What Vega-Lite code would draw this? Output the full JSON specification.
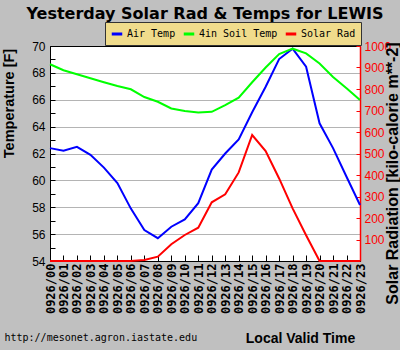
{
  "$schema": "https://vega.github.io/schema/vega-lite/v6.json",
  "width": 310,
  "height": 215,
  "autosize": {"type": "none"},
  "padding": {"left": 50, "top": 46, "right": 40, "bottom": 89},
  "background": "#c0c0c0",
  "title": {"text": "Yesterday Solar Rad & Temps for  LEWIS", "font": "DejaVu Sans", "fontSize": 16, "fontWeight": "bold", "color": "#000000", "anchor": "middle", "baseline": "alphabetic", "offset": 2, "dy": 15},
  "config": {"view": {"fill": "white", "stroke": "black", "strokeWidth": 1}},
  "datasets": {
    "obs": [
      {"time": "0926/00", "series": "Air Temp", "value": 62.4},
      {"time": "0926/01", "series": "Air Temp", "value": 62.2},
      {"time": "0926/02", "series": "Air Temp", "value": 62.5},
      {"time": "0926/03", "series": "Air Temp", "value": 61.9},
      {"time": "0926/04", "series": "Air Temp", "value": 60.95},
      {"time": "0926/05", "series": "Air Temp", "value": 59.8},
      {"time": "0926/06", "series": "Air Temp", "value": 57.9},
      {"time": "0926/07", "series": "Air Temp", "value": 56.3},
      {"time": "0926/08", "series": "Air Temp", "value": 55.7},
      {"time": "0926/09", "series": "Air Temp", "value": 56.55},
      {"time": "0926/10", "series": "Air Temp", "value": 57.1},
      {"time": "0926/11", "series": "Air Temp", "value": 58.3},
      {"time": "0926/12", "series": "Air Temp", "value": 60.8},
      {"time": "0926/13", "series": "Air Temp", "value": 62.0},
      {"time": "0926/14", "series": "Air Temp", "value": 63.05},
      {"time": "0926/15", "series": "Air Temp", "value": 65.07},
      {"time": "0926/16", "series": "Air Temp", "value": 66.97},
      {"time": "0926/17", "series": "Air Temp", "value": 69.03},
      {"time": "0926/18", "series": "Air Temp", "value": 69.8},
      {"time": "0926/19", "series": "Air Temp", "value": 68.46},
      {"time": "0926/20", "series": "Air Temp", "value": 64.25},
      {"time": "0926/21", "series": "Air Temp", "value": 62.4},
      {"time": "0926/22", "series": "Air Temp", "value": 60.27},
      {"time": "0926/23", "series": "Air Temp", "value": 58.17},
      {"time": "0926/00", "series": "4in Soil Temp", "value": 68.64},
      {"time": "0926/01", "series": "4in Soil Temp", "value": 68.2},
      {"time": "0926/02", "series": "4in Soil Temp", "value": 67.9},
      {"time": "0926/03", "series": "4in Soil Temp", "value": 67.6},
      {"time": "0926/04", "series": "4in Soil Temp", "value": 67.3},
      {"time": "0926/05", "series": "4in Soil Temp", "value": 67.02},
      {"time": "0926/06", "series": "4in Soil Temp", "value": 66.78},
      {"time": "0926/07", "series": "4in Soil Temp", "value": 66.2},
      {"time": "0926/08", "series": "4in Soil Temp", "value": 65.85},
      {"time": "0926/09", "series": "4in Soil Temp", "value": 65.35},
      {"time": "0926/10", "series": "4in Soil Temp", "value": 65.17},
      {"time": "0926/11", "series": "4in Soil Temp", "value": 65.06},
      {"time": "0926/12", "series": "4in Soil Temp", "value": 65.1},
      {"time": "0926/13", "series": "4in Soil Temp", "value": 65.6},
      {"time": "0926/14", "series": "4in Soil Temp", "value": 66.15},
      {"time": "0926/15", "series": "4in Soil Temp", "value": 67.3},
      {"time": "0926/16", "series": "4in Soil Temp", "value": 68.4},
      {"time": "0926/17", "series": "4in Soil Temp", "value": 69.4},
      {"time": "0926/18", "series": "4in Soil Temp", "value": 69.8},
      {"time": "0926/19", "series": "4in Soil Temp", "value": 69.45},
      {"time": "0926/20", "series": "4in Soil Temp", "value": 68.7},
      {"time": "0926/21", "series": "4in Soil Temp", "value": 67.7},
      {"time": "0926/22", "series": "4in Soil Temp", "value": 66.85},
      {"time": "0926/23", "series": "4in Soil Temp", "value": 65.98},
      {"time": "0926/00", "series": "Solar Rad", "value": 0},
      {"time": "0926/01", "series": "Solar Rad", "value": 0},
      {"time": "0926/02", "series": "Solar Rad", "value": 0},
      {"time": "0926/03", "series": "Solar Rad", "value": 0},
      {"time": "0926/04", "series": "Solar Rad", "value": 0},
      {"time": "0926/05", "series": "Solar Rad", "value": 0},
      {"time": "0926/06", "series": "Solar Rad", "value": 0},
      {"time": "0926/07", "series": "Solar Rad", "value": 5},
      {"time": "0926/08", "series": "Solar Rad", "value": 20},
      {"time": "0926/09", "series": "Solar Rad", "value": 78},
      {"time": "0926/10", "series": "Solar Rad", "value": 121},
      {"time": "0926/11", "series": "Solar Rad", "value": 155},
      {"time": "0926/12", "series": "Solar Rad", "value": 273},
      {"time": "0926/13", "series": "Solar Rad", "value": 310},
      {"time": "0926/14", "series": "Solar Rad", "value": 412},
      {"time": "0926/15", "series": "Solar Rad", "value": 586},
      {"time": "0926/16", "series": "Solar Rad", "value": 511},
      {"time": "0926/17", "series": "Solar Rad", "value": 384},
      {"time": "0926/18", "series": "Solar Rad", "value": 245},
      {"time": "0926/19", "series": "Solar Rad", "value": 120},
      {"time": "0926/20", "series": "Solar Rad", "value": 0},
      {"time": "0926/21", "series": "Solar Rad", "value": 0},
      {"time": "0926/22", "series": "Solar Rad", "value": 0},
      {"time": "0926/23", "series": "Solar Rad", "value": 0}
    ]
  },
  "data": {"name": "obs"},
  "layer": [
    {
      "transform": [{"filter": "datum.series != 'Solar Rad'"}],
      "mark": {"type": "line", "strokeWidth": 2},
      "encoding": {
        "x": {
          "field": "time", "type": "ordinal",
          "scale": {"type": "point", "padding": 0},
          "axis": {
            "orient": "bottom",
            "labelAngle": 270, "labelFont": "DejaVu Sans Mono", "labelFontWeight": "bold", "labelFontSize": 12,
            "labelColor": "black", "labelOverlap": false, "labelPadding": 8,
            "tickSize": -6, "tickColor": "black", "domainColor": "black", "grid": false,
            "title": "Local Valid Time", "titleFont": "Liberation Sans", "titleFontSize": 14, "titleFontWeight": "bold",
            "titleColor": "black", "titleX": 250, "titleY": 81, "titleAlign": "center", "titleBaseline": "alphabetic", "titleAngle": 0
          }
        },
        "y": {
          "field": "value", "type": "quantitative",
          "scale": {"domain": [54, 70], "nice": false, "zero": false},
          "axis": {
            "values": [54, 55, 56, 57, 58, 59, 60, 61, 62, 63, 64, 65, 66, 67, 68, 69, 70],
            "labelExpr": "datum.value % 2 == 0 ? datum.label : ''",
            "labelOverlap": false, "labelFont": "Liberation Sans", "labelFontSize": 12, "labelColor": "black",
            "labelPadding": 10, "tickSize": -5, "tickColor": "black", "domainColor": "black",
            "grid": true, "gridColor": "#b4b4b4",
            "gridOpacity": {"condition": {"test": "datum.value % 2 == 1 || datum.value == 54 || datum.value == 70", "value": 0}, "value": 1},
            "title": "Temperature [F]", "titleFont": "Liberation Sans", "titleFontSize": 14.5, "titleFontWeight": "bold",
            "titleColor": "black", "titleX": -37, "titleY": 57, "titleAngle": 270, "titleAlign": "center", "titleBaseline": "alphabetic"
          }
        },
        "color": {
          "field": "series", "type": "nominal",
          "scale": {"domain": ["Air Temp", "4in Soil Temp", "Solar Rad"], "range": ["#0000ff", "#00ff00", "#ff0000"]},
          "legend": {
            "orient": "none", "legendX": 55, "legendY": -24, "direction": "horizontal", "title": null,
            "fillColor": "#f0dc8c", "strokeColor": "#333333", "padding": 5,
            "symbolType": "stroke", "symbolSize": 110, "symbolStrokeWidth": 3,
            "labelFont": "DejaVu Sans Mono", "labelFontSize": 10, "labelColor": "black", "labelOffset": 3, "columnPadding": 1
          }
        }
      }
    },
    {
      "transform": [{"filter": "datum.series == 'Solar Rad'"}],
      "mark": {"type": "line", "strokeWidth": 2},
      "encoding": {
        "x": {
          "field": "time", "type": "ordinal",
          "scale": {"type": "point", "padding": 0},
          "axis": {
            "orient": "bottom",
            "labels": false, "ticks": false, "domain": false, "grid": false,
            "title": "http://mesonet.agron.iastate.edu", "titleFont": "DejaVu Sans Mono", "titleFontSize": 10, "titleFontWeight": "normal",
            "titleColor": "black", "titleX": -46, "titleY": 79, "titleAlign": "left", "titleBaseline": "alphabetic", "titleAngle": 0
          }
        },
        "y": {
          "field": "value", "type": "quantitative",
          "scale": {"domain": [0, 1000], "nice": false},
          "axis": {
            "orient": "right", "format": "d",
            "values": [100, 200, 300, 400, 500, 600, 700, 800, 900, 1000],
            "labelOverlap": false, "labelFont": "Liberation Sans", "labelFontSize": 12, "labelColor": "red",
            "labelPadding": 8, "tickSize": -4, "tickColor": "red", "domainColor": "red", "domainWidth": 1.5, "grid": false,
            "title": "Solar Radiation [kilo-calorie m**-2]", "titleFont": "Liberation Sans", "titleFontSize": 16, "titleFontWeight": "bold",
            "titleColor": "black", "titleX": 37, "titleY": 127, "titleAngle": 270, "titleAlign": "center", "titleBaseline": "alphabetic"
          }
        },
        "color": {"field": "series", "type": "nominal"}
      }
    }
  ],
  "resolve": {"scale": {"y": "independent"}, "axis": {"x": "independent"}}
}
